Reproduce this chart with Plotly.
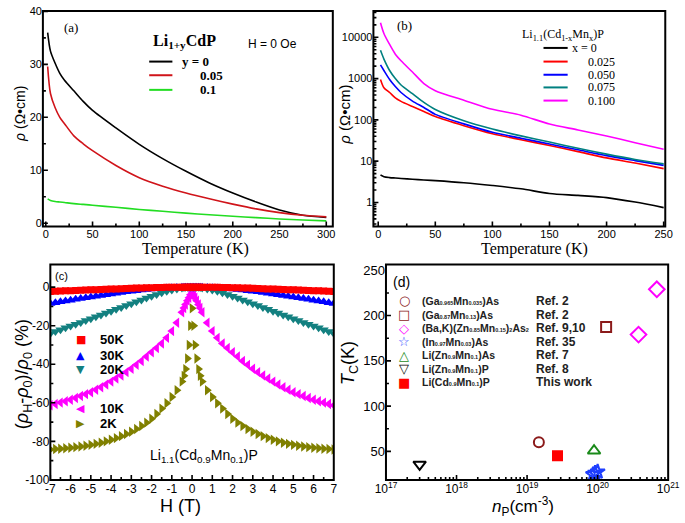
import plotly.graph_objects as go

W, H = 685, 523
SANS = "Liberation Sans, Arial, sans-serif"
SERIF = "Liberation Serif, Times New Roman, serif"

# ---------------- panel (a): Li1+yCdP, rho vs T ----------------
T_a = [2, 5, 10, 15, 20, 30, 40, 50, 75, 100, 125, 150, 175, 200, 225, 250, 275, 300]
rho_a_y0 = [36, 32.5, 30.2, 28.3, 27, 25, 23, 21.3, 18, 14.9, 12.2, 9.8, 7.6, 5.7, 4.0, 2.5, 1.5, 1.1]
rho_a_y005 = [29.6, 24.5, 21.8, 20, 18.8, 16.5, 15, 13.7, 10.9, 8.6, 7, 5.7, 4.6, 3.6, 2.7, 2.0, 1.5, 1.2]
rho_a_y01 = [4.6, 4.3, 4.1, 4.0, 3.9, 3.7, 3.55, 3.4, 3.0, 2.6, 2.25, 1.9, 1.6, 1.3, 1.05, 0.8, 0.6, 0.45]
labels_a = ["y = 0", "0.05", "0.1"]
xticks_a = [0, 50, 100, 150, 200, 250, 300]
yticks_a = [0, 10, 20, 30, 40]

# ---------------- panel (b): Li1.1(Cd1-xMnx)P, rho vs T (log) ----------------
T_b = [2, 5, 10, 15, 20, 30, 40, 50, 75, 100, 125, 150, 175, 200, 225, 250]
rho_b_x0 = [4.6, 4.2, 4.0, 3.9, 3.8, 3.65, 3.5, 3.37, 3.0, 2.57, 2.14, 1.65, 1.48, 1.31, 1.02, 0.75]
rho_b_x025 = [950, 600, 460, 340, 280, 210, 160, 120, 72, 46, 33, 24, 17, 12, 9, 6.6]
rho_b_x050 = [2140, 1570, 950, 640, 460, 285, 200, 136, 80, 50, 36, 26, 18.8, 13.6, 10.3, 7.9]
rho_b_x075 = [4840, 2970, 1570, 1000, 700, 430, 265, 178, 95, 60, 41, 29, 20.5, 14.8, 11, 8.6]
rho_b_x100 = [22600, 12400, 6700, 3900, 2700, 1440, 760, 510, 300, 180, 130, 79, 57, 40.6, 28, 19.5]
labels_b = ["x = 0", "0.025", "0.050", "0.075", "0.100"]
xticks_b = [0, 50, 100, 150, 200, 250]
yticks_b = [1, 10, 100, 1000, 10000]

# ---------------- panel (c): magnetoresistance ----------------
H_c = [-7, -6.75, -6.5, -6.25, -6, -5.75, -5.5, -5.25, -5, -4.75, -4.5, -4.25, -4, -3.75, -3.5, -3.25,
       -3, -2.75, -2.5, -2.25, -2, -1.75, -1.5, -1.25, -1, -0.75, -0.5, -0.4, -0.32, -0.23, -0.15, -0.08,
       0,
       0.08, 0.15, 0.23, 0.32, 0.4, 0.5, 0.75, 1, 1.25, 1.5, 1.75, 2, 2.25, 2.5, 2.75,
       3, 3.25, 3.5, 3.75, 4, 4.25, 4.5, 4.75, 5, 5.25, 5.5, 5.75, 6, 6.25, 6.5, 6.75, 7]
mr_50K = [-2.2, -2.1, -2.0, -1.9, -1.8, -1.7, -1.6, -1.5, -1.4, -1.3, -1.2, -1.1, -1.0, -0.9, -0.8, -0.7,
          -0.6, -0.5, -0.4, -0.3, -0.3, -0.2, -0.2, -0.1, -0.1, -0.1, 0, 0, 0, 0, 0, 0,
          0,
          0, 0, 0, 0, 0, 0, -0.1, -0.1, -0.1, -0.2, -0.2, -0.3, -0.3, -0.4, -0.5,
          -0.6, -0.7, -0.8, -0.9, -1.0, -1.1, -1.2, -1.3, -1.4, -1.5, -1.6, -1.7, -1.8, -1.9, -2.0, -2.1, -2.2]
mr_30K = [-8.5, -8.1, -7.6, -7.2, -6.8, -6.3, -5.9, -5.5, -5.1, -4.7, -4.3, -3.9, -3.5, -3.1, -2.8, -2.4,
          -2.1, -1.8, -1.5, -1.2, -1.0, -0.8, -0.6, -0.4, -0.3, -0.2, -0.1, 0, 0, 0, 0, 0,
          0,
          0, 0, 0, 0, 0, -0.1, -0.2, -0.3, -0.4, -0.6, -0.8, -1.0, -1.2, -1.5, -1.8,
          -2.1, -2.4, -2.8, -3.1, -3.5, -3.9, -4.3, -4.7, -5.1, -5.5, -5.9, -6.3, -6.8, -7.2, -7.6, -8.1, -8.5]
mr_20K = [-24.0, -23.0, -22.1, -21.1, -20.2, -19.2, -18.3, -17.3, -16.4, -15.4, -14.4, -13.4, -12.5, -11.5, -10.5, -9.5,
          -8.6, -7.6, -6.6, -5.6, -4.7, -3.8, -2.9, -2.1, -1.5, -0.9, -0.4, -0.2, -0.1, 0, 0, 0,
          0,
          0, 0, 0, -0.1, -0.2, -0.4, -0.9, -1.5, -2.1, -2.9, -3.8, -4.7, -5.6, -6.6, -7.6,
          -8.6, -9.5, -10.5, -11.5, -12.5, -13.4, -14.4, -15.4, -16.4, -17.3, -18.3, -19.2, -20.2, -21.1, -22.1, -23.0, -24.0]
mr_10K = [-61.3, -60.6, -59.9, -59.2, -58.4, -57.5, -56.5, -55.5, -54.5, -53.2, -51.9, -50.5, -49.0, -47.4, -45.8, -44.1,
          -42.3, -40.3, -38.3, -36.0, -33.8, -31.6, -29.2, -26.3, -22.8, -18.5, -13.0, -10.8, -9.0, -7.0, -5.5, -4.0,
          -2.5,
          -4.0, -5.5, -7.0, -9.0, -10.8, -13.0, -18.5, -22.8, -26.3, -29.2, -31.6, -33.8, -36.0, -38.3, -40.3,
          -42.3, -44.1, -45.8, -47.4, -49.0, -50.5, -51.9, -53.2, -54.5, -55.5, -56.5, -57.5, -58.4, -59.2, -59.9, -60.6, -61.3]
mr_2K = [-84.2, -84.0, -83.8, -83.6, -83.3, -83.0, -82.7, -82.3, -81.8, -81.3, -80.7, -80.0, -79.2, -78.3, -77.3, -76.2,
         -75.0, -73.6, -72.0, -70.3, -68.3, -65.8, -63.0, -60.2, -57.0, -53.5, -49.0, -46.0, -42.5, -37.0, -30.0, -20.0,
         -11.0,
         -20.0, -30.0, -37.0, -42.5, -46.0, -49.0, -53.5, -57.0, -60.2, -63.0, -65.8, -68.3, -70.3, -72.0, -73.6,
         -75.0, -76.2, -77.3, -78.3, -79.2, -80.0, -80.7, -81.3, -81.8, -82.3, -82.7, -83.0, -83.3, -83.6, -83.8, -84.0, -84.2]
labels_c = ["50K", "30K", "20K", "10K", "2K"]
xtick_c = [-7, -6, -5, -4, -3, -2, -1, 0, 1, 2, 3, 4, 5, 6, 7]
xtick_c_text = ["-7", "-6", "-5", "-4", "-3", "-2", "-1", "0", "1", "2", "3", "4", "5", "6", "7"]
ytick_c = [0, -20, -40, -60, -80, -100]
ytick_c_text = ["0", "-20", "-40", "-60", "-80", "-100"]

# ---------------- panel (d): Tc vs carrier density ----------------
np_GaMn035 = [1.47e19]; tc_GaMn035 = [60]
np_GaMn13 = [1.32e20]; tc_GaMn13 = [187.5]
np_BaK = [3.8e20, 6.9e20]; tc_BaK = [179, 229]
np_InMn = [8.6e19, 9.2e19, 1.0e20]; tc_InMn = [24.5, 26, 27.5]
np_LiZnAs = [8.9e19]; tc_LiZnAs = [50.7]
np_LiZnP = [3.0e17]; tc_LiZnP = [35.6]
np_LiCdP = [2.7e19]; tc_LiCdP = [45.3]
S = '<span style="font-size:5.5px">%s</span>'
names_d = ["(Ga" + S % "0.965" + "Mn" + S % "0.035" + ")As",
           "(Ga" + S % "0.87" + "Mn" + S % "0.13" + ")As",
           "(Ba,K)(Zn" + S % "0.85" + "Mn" + S % "0.15" + ")" + S % "2" + "As" + S % "2",
           "(In" + S % "0.97" + "Mn" + S % "0.03" + ")As",
           "Li(Zn" + S % "0.9" + "Mn" + S % "0.1" + ")As",
           "Li(Zn" + S % "0.9" + "Mn" + S % "0.1" + ")P",
           "Li(Cd" + S % "0.9" + "Mn" + S % "0.1" + ")P"]
refs_d = ["Ref. 2", "Ref. 2", "Ref. 9,10", "Ref. 35", "Ref. 7", "Ref. 8", "This work"]
ytick_d = [50, 100, 150, 200, 250]
xtick_d = [1e17, 1e18, 1e19, 1e20, 1e21]
xtick_d_text = ["10<sup>17</sup>", "10<sup>18</sup>", "10<sup>19</sup>", "10<sup>20</sup>", "10<sup>21</sup>"]


def fx(p):
    return p / W


def fy(p):
    return 1 - p / H


fig = go.Figure()

# panel (a)
cols_a = ["#000000", "#d0141a", "#22dd22"]
for ys, c in zip([rho_a_y0, rho_a_y005, rho_a_y01], cols_a):
    fig.add_trace(go.Scatter(x=T_a, y=ys, mode="lines", line=dict(color=c, width=1.6, shape="spline", smoothing=0.8),
                             xaxis="x", yaxis="y", showlegend=False, hoverinfo="skip"))

# panel (b)
cols_b = ["#000000", "#ff0000", "#0000ff", "#008080", "#ff00ff"]
for ys, c in zip([rho_b_x0, rho_b_x025, rho_b_x050, rho_b_x075, rho_b_x100], cols_b):
    fig.add_trace(go.Scatter(x=T_b, y=ys, mode="lines", line=dict(color=c, width=1.6, shape="spline", smoothing=0.8),
                             xaxis="x2", yaxis="y2", showlegend=False, hoverinfo="skip"))

# panel (c)
ser_c = [(mr_2K, "#808000", "triangle-right"), (mr_10K, "#ff00ff", "triangle-left"),
         (mr_20K, "#138080", "triangle-down"), (mr_30K, "#0000ff", "triangle-up"),
         (mr_50K, "#ff0000", "square")]
for ys, c, s in ser_c:
    fig.add_trace(go.Scatter(x=H_c, y=ys, mode="markers",
                             marker=dict(color=c, symbol=s, size=9 if s != "square" else 7, line=dict(width=0)),
                             xaxis="x3", yaxis="y3", showlegend=False, hoverinfo="skip"))

# panel (d)
ser_d = [(np_GaMn035, tc_GaMn035, "#8b1a1a", "circle-open", 10),
         (np_GaMn13, tc_GaMn13, "#8b1a1a", "square-open", 10),
         (np_BaK, tc_BaK, "#ff00ff", "diamond-open", 12),
         (np_InMn, tc_InMn, "#1f3fff", "star-open", 11),
         (np_LiZnAs, tc_LiZnAs, "#1a8a1a", "triangle-up-open", 11),
         (np_LiZnP, tc_LiZnP, "#000000", "triangle-down-open", 11),
         (np_LiCdP, tc_LiCdP, "#ff0000", "square", 9)]
for xs, ys, c, s, sz in ser_d:
    fig.add_trace(go.Scatter(x=xs, y=ys, mode="markers",
                             marker=dict(color=c, symbol=s, size=sz, line=dict(color=c, width=2)),
                             xaxis="x4", yaxis="y4", showlegend=False, hoverinfo="skip"))


def axis(domain, rng, anchor, size=11, **kw):
    d = dict(domain=domain, range=rng, anchor=anchor, showline=False, ticks="",
             showgrid=False, zeroline=False, tickfont=dict(family=SANS, size=size, color="black"))
    d.update(kw)
    return d


dom_a_x = [fx(33), fx(333)]
dom_b_x = [fx(375), fx(677)]
dom_top_y = [fy(226), fy(5)]
dom_c_x = [fx(40.7), fx(334)]
dom_d_x = [fx(388), fx(680)]
dom_bot_y = [fy(486), fy(265)]

fig.update_layout(
    width=W, height=H, margin=dict(l=0, r=0, t=0, b=0, pad=0),
    paper_bgcolor="white", plot_bgcolor="white", showlegend=False,
    xaxis=axis(dom_a_x, [-3.1, 307], "y", tickvals=xticks_a),
    yaxis=axis(dom_top_y, [-0.6, 40.1], "x", tickvals=yticks_a),
    xaxis2=axis(dom_b_x, [-4.2, 251.4], "y2", tickvals=xticks_b),
    yaxis2=axis(dom_top_y, [-0.58, 4.64], "x2", type="log", tickvals=yticks_b,
                ticktext=[str(v) for v in yticks_b]),
    xaxis3=axis(dom_c_x, [-7, 7], "y3", size=12, tickvals=xtick_c, ticktext=xtick_c_text),
    yaxis3=axis(dom_bot_y, [-100, 11.8], "x3", size=12, tickvals=ytick_c, ticktext=ytick_c_text),
    xaxis4=axis(dom_d_x, [17, 21], "y4", size=12, type="log", tickvals=xtick_d, ticktext=xtick_d_text),
    yaxis4=axis(dom_bot_y, [18.5, 256.5], "x4", size=13, tickvals=ytick_d),
)

shapes = []
FRAME = dict(color="#000000", width=2)
TICK = dict(color="#000000", width=1.6)


def frame(dx, dy):
    # panel border drawn in paper coordinates from the subplot domains
    shapes.append(dict(type="rect", xref="paper", yref="paper", x0=dx[0], x1=dx[1], y0=dy[0], y1=dy[1],
                       line=FRAME, fillcolor="rgba(0,0,0,0)", layer="above"))


def xticks(xa, dy, vals, ln):
    for v in vals:
        shapes.append(dict(type="line", xref=xa, yref="paper", x0=v, x1=v,
                           ysizemode="pixel", yanchor=dy[0], y0=0, y1=ln, line=TICK, layer="above"))


def yticks(ya, dx, vals, ln):
    for v in vals:
        shapes.append(dict(type="line", xref="paper", yref=ya, y0=v, y1=v,
                           xsizemode="pixel", xanchor=dx[0], x0=0, x1=ln, line=TICK, layer="above"))


# axis frames and inward ticks
frame(dom_a_x, dom_top_y)
xticks("x", dom_top_y, xticks_a, 5)
xticks("x", dom_top_y, [v + 25 for v in xticks_a[:-1]], 3)
yticks("y", dom_a_x, yticks_a, 5)
yticks("y", dom_a_x, [v + 5 for v in yticks_a[:-1]], 3)

frame(dom_b_x, dom_top_y)
xticks("x2", dom_top_y, xticks_b, 5)
xticks("x2", dom_top_y, [v + 25 for v in xticks_b[:-1]], 3)
yticks("y2", dom_b_x, yticks_b, 5)
yticks("y2", dom_b_x, [m * v for v in [0.1] + yticks_b for m in range(2, 10) if 0.27 < m * v < 43000], 3)

frame(dom_c_x, dom_bot_y)
xticks("x3", dom_bot_y, xtick_c, 5)
xticks("x3", dom_bot_y, [v + 0.5 for v in xtick_c[:-1]], 3)
yticks("y3", dom_c_x, ytick_c, 5)
yticks("y3", dom_c_x, [v - 10 for v in ytick_c[:-1]], 3)

frame(dom_d_x, dom_bot_y)
xticks("x4", dom_bot_y, xtick_d[1:-1], 5)
xticks("x4", dom_bot_y, [m * v for v in xtick_d[:-1] for m in range(2, 10)], 3)
yticks("y4", dom_d_x, ytick_d[:-1], 5)
yticks("y4", dom_d_x, [v + 25 for v in ytick_d[:-1]], 3)


def ann(text, x, y, size=12, family=SANS, xanchor="center", yanchor="middle", color="black", angle=0):
    return dict(text=text, x=fx(x), y=fy(y), xref="paper", yref="paper", showarrow=False,
                xanchor=xanchor, yanchor=yanchor, textangle=angle,
                font=dict(family=family, size=size, color=color))


anns = []
# panel (a) texts
anns.append(ann("(a)", 62, 22, 13, SERIF))
anns.append(ann("<b>Li<sub>1+y</sub>CdP</b>", 145, 36, 16, SERIF, xanchor="left"))
anns.append(ann("H = 0 Oe", 243, 39, 12, SANS, xanchor="left"))
rows_a = [57, 71, 86]
text_x_a = [175, 193, 193]
for lab, c, yy, tx in zip(labels_a, cols_a, rows_a, text_x_a):
    shapes.append(dict(type="line", xref="paper", yref="paper", x0=fx(143), x1=fx(167), y0=fy(yy), y1=fy(yy),
                       line=dict(color=c, width=2)))
    anns.append(ann("<b>%s</b>" % lab, tx, yy, 13, SERIF, xanchor="left"))
anns.append(ann("<i>ρ</i> (Ω•cm)", 10, 111, 14, SANS, angle=-90))
anns.append(ann("Temperature (K)", 191, 249, 16, SERIF))

# panel (b) texts
anns.append(ann("(b)", 407, 20, 13, SERIF))
anns.append(ann("Li<sub>1.1</sub>(Cd<sub>1-x</sub>Mn<sub>x</sub>)P", 527, 30, 12, SERIF, xanchor="left"))
rows_b = [43, 57, 70.5, 83.5, 97]
for i, (lab, c, yy) in enumerate(zip(labels_b, cols_b, rows_b)):
    shapes.append(dict(type="line", xref="paper", yref="paper", x0=fx(551), x1=fx(576), y0=fy(yy), y1=fy(yy),
                       line=dict(color=c, width=2)))
    anns.append(ann(lab, 578 if i == 0 else 595, yy, 12, SERIF, xanchor="left"))
anns.append(ann("<i>ρ</i> (Ω•cm)", 345, 111, 15, SANS, angle=-90))
anns.append(ann("Temperature (K)", 542, 249, 16, SERIF))

# panel (c) texts
anns.append(ann("(c)", 52, 277, 11, SANS))
glyph_c = ["■", "▲", "▼", "◀", "▶"]
cols_c = ["#ff0000", "#0000ff", "#138080", "#ff00ff", "#808000"]
rows_c = [342, 358, 373, 413, 428]
for g, c, lab, yy in zip(glyph_c, cols_c, labels_c, rows_c):
    anns.append(ann(g, 72, yy, 11, "DejaVu Sans", color=c))
    anns.append(ann("<b>%s</b>" % lab, 90, yy, 13, SANS, xanchor="left"))
anns.append(ann("Li<sub>1.1</sub>(Cd<sub>0.9</sub>Mn<sub>0.1</sub>)P", 200, 461, 14, SANS))
anns.append(ann("(<i>ρ</i><sub>H</sub>-<i>ρ</i><sub>0</sub>)/<i>ρ</i><sub>0</sub> (%)", 13, 378, 18, SANS, angle=-90))
anns.append(ann("H (T)", 175, 513, 18, SANS))

# panel (d) texts
anns.append(ann("(d)", 404, 283, 14, SANS))
glyph_d = ["○", "□", "◇", "☆", "△", "▽", "■"]
cols_d = ["#8b1a1a", "#8b1a1a", "#ff00ff", "#1f3fff", "#1a8a1a", "#000000", "#ff0000"]
for i, (g, c, nm, rf) in enumerate(zip(glyph_d, cols_d, names_d, refs_d)):
    yy = 302.5 + 13.9 * i
    anns.append(ann("<b>%s</b>" % g, 407, yy, 13, "DejaVu Sans", color=c))
    anns.append(ann("<b>%s</b>" % nm, 423, yy, 10.5, SANS, xanchor="left", color="#222"))
    anns.append(ann("<b>%s</b>" % rf, 541, yy, 12, SANS, xanchor="left", color="#222"))
anns.append(ann("<i>T</i><sub>C</sub>(K)", 351, 366, 18, SANS, angle=-90))
anns.append(ann("<i>n</i><sub>P</sub>(cm<sup>-3</sup>)", 530, 513, 17, SANS))

fig.update_layout(annotations=anns, shapes=shapes)

assert len(H_c) == len(mr_50K) == len(mr_30K) == len(mr_20K) == len(mr_10K) == len(mr_2K)

fig.write_html("out.html", config={"displayModeBar": False},
               post_script="document.body.style.margin='0';")
